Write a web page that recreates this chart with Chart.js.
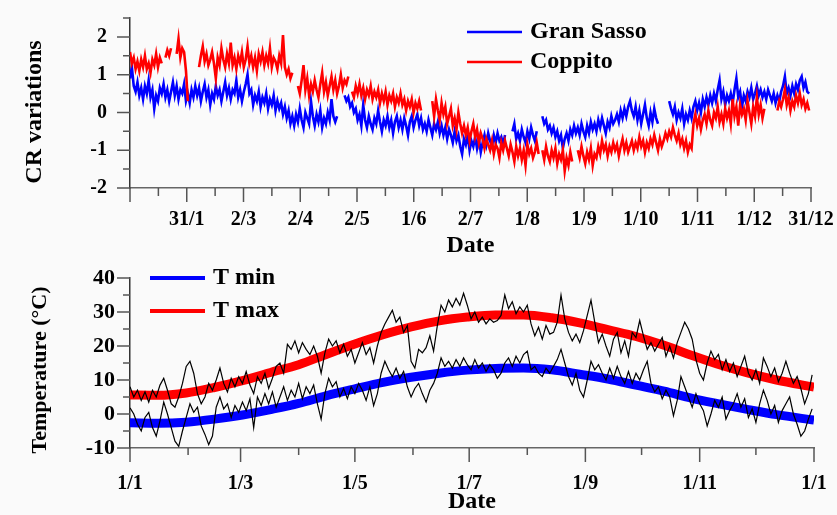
<!DOCTYPE html>
<html>
<head>
<meta charset="utf-8">
<script src="https://cdn.jsdelivr.net/npm/chart.js@4.4.1/dist/chart.umd.min.js"></script>
<style>
  html, body { margin: 0; padding: 0; background: #fafafa; }
  #wrap { position: relative; width: 837px; height: 515px; }
  #cr { position: absolute; left: 0; top: 0; }
  #temp { position: absolute; left: 0; top: 258px; }
</style>
</head>
<body>
<div id="wrap">
  <canvas id="cr" width="837" height="258"></canvas>
  <canvas id="temp" width="837" height="257"></canvas>
</div>
<script>
// top panel: daily CR variations, index = day of year (null = no data)
const gsVar = [
  0.9, 1.2, 0.7, 0.55, 0.8, 0.45, 0.65, 0.35, 0.7, 0.5,
  0.85, 0.4, 0.6, 0.1, 0.45, 0.3, 0.65, 0.5, 0.75, 0.4,
  0.6, 0.3, 0.55, 0.8, 0.45, 0.7, 0.35, 0.6, 0.5, 0.75,
  0.3, 0.5, 0.25, 0.6, 0.4, 0.7, 0.45, 0.65, 0.3, 0.55,
  0.75, 0.4, 0.6, 0.2, 0.5, 0.35, 0.7, 0.45, 0.6, 0.3,
  0.55, 0.8, 0.45, 0.65, 0.35, 0.6, 0.5, 0.85, 0.4, 0.6,
  0.3, 0.55, 0.75, 1.0, 0.5, 0.6, 0.2, 0.45, 0.3, 0.55,
  0.15, 0.4, 0.25, 0.5, 0.1, 0.35, 0.2, 0.45, 0.05, 0.3,
  0.1, 0.25, -0.05, 0.15, -0.15, 0.05, -0.3, -0.1, -0.35, -0.05,
  -0.25, 0.1, -0.2, -0.4, 0.0, -0.15, -0.3, 0.3, -0.1, -0.35,
  -0.05, -0.25, 0.05, -0.4, -0.15, -0.3, 0.0, -0.2, 0.35, -0.1,
  -0.25, -0.1, null, null, null, 0.45, 0.3, 0.4, 0.15, 0.25,
  0.0, 0.1, -0.2, -0.05, -0.35, 0.2, -0.2, -0.4, -0.1, -0.3,
  -0.45, -0.15, -0.3, 0.05, -0.25, -0.5, -0.2, -0.35, -0.1, -0.4,
  -0.2, -0.55, -0.25, -0.1, -0.4, -0.2, -0.45, -0.15, -0.35, -0.6,
  -0.25, -0.1, -0.4, -0.2, -0.05, -0.35, -0.15, -0.45, -0.3, -0.5,
  -0.2, -0.4, -0.6, -0.3, -0.45, -0.25, -0.55, -0.35, -0.6, -0.4,
  -0.7, -0.45, -0.6, -0.8, -0.5, -0.75, -0.6, -0.9, -1.1, -0.7,
  -0.85, -0.6, -1.0, -0.75, -0.9, -0.65, -0.95, -0.7, -1.05, -0.8,
  -0.6, -0.85, -0.55, -0.75, -0.9, -0.6, -0.8, -0.55, -0.75, -0.65,
  -0.85, -0.6, null, null, null, -0.5, -0.3, -0.7, -0.55, -0.75,
  -0.45, -0.65, -0.8, -0.5, -0.7, -0.4, -0.6, -0.75, -0.5, null,
  null, -0.1, -0.3, -0.2, -0.45, -0.35, -0.55, -0.4, -0.65, -0.5,
  -0.75, -0.6, -0.95, -0.7, -0.55, -0.75, -0.45, -0.6, -0.35, -0.55,
  -0.4, -0.6, -0.3, -0.5, -0.65, -0.35, -0.55, -0.25, -0.45, -0.3,
  -0.5, -0.2, -0.4, -0.15, -0.35, -0.55, -0.25, -0.4, -0.1, -0.3,
  -0.2, -0.05, -0.25, 0.05, -0.15, 0.1, -0.1, 0.15, 0.3, 0.05,
  -0.1, 0.15, -0.2, 0.05, -0.3, -0.05, 0.2, -0.15, -0.35, 0.0,
  -0.25, 0.1, -0.15, -0.3, null, null, null, null, null, 0.3,
  0.1, -0.05, 0.15, -0.2, 0.0, -0.15, 0.1, -0.3, -0.05, -0.2,
  0.05, -0.15, 0.15, 0.3, 0.05, 0.25, 0.0, 0.35, 0.15, 0.4,
  0.2, 0.45, 0.25, 0.5, 0.3, 0.6, 0.85, 0.35, 0.55, 0.2,
  0.45, 0.3, 0.5, 0.25, 0.6, 0.9, 0.4, 0.55, 0.15, 0.45,
  0.3, 0.55, 0.4, 0.65, 0.35, 0.5, 0.7, 0.45, 0.6, 0.4,
  0.55, 0.35, 0.6, 0.45, 0.3, 0.5, 0.25, 0.45, 0.3, 0.55,
  0.7, 0.95, 0.5, 0.65, 0.45, 0.7, 0.5, 0.75, 0.6, 0.85,
  0.95, 0.65, 0.8, 0.55, 0.5
];
const copVar = [
  1.6, 1.3, 1.45, 1.15, 1.35, 1.1, 1.4, 1.2, 1.5, 1.15,
  1.3, 1.05, 1.4, 1.25, 1.55, 1.2, 1.45, 1.3, null, 1.45,
  1.65, 1.5, 1.7, null, null, 1.55, 1.95, 1.45, 1.7, 1.6,
  1.1, 0.3, null, null, null, null, null, 1.2, 1.5, 1.75,
  1.35, 1.55, 1.25, 1.4, 1.6, 1.3, 0.9, 1.45, 1.25, 1.7,
  1.4, 1.2, 1.55, 1.3, 1.85, 1.25, 1.45, 1.15, 1.5, 1.3,
  1.6, 1.2, 1.4, 1.75, 1.3, 1.5, 1.2, 1.45, 1.1, 1.55,
  1.35, 1.6, 1.25, 1.5, 1.3, 1.7, 1.2, 1.45, 1.35, 1.15,
  1.5, 1.3, 2.05, 1.2, 1.0, 1.15, 0.9, 1.05, null, null,
  0.7, 0.5, 0.85, 1.25, 0.6, 0.9, 0.45, 0.75, 0.55, 0.85,
  0.6, 0.4, 0.75, 1.05, 0.55, 0.8, 0.45, 0.7, 0.95, 0.6,
  0.85, 0.5, 0.7, 1.0, 0.65, 0.85, 0.75, 0.95, null, 0.55,
  0.4, 0.7, 0.5, 0.75, 0.45, 0.65, 0.35, 0.6, 0.45, 0.7,
  0.35, 0.55, 0.4, 0.6, 0.25, 0.5, 0.3, 0.55, 0.2, 0.45,
  0.3, 0.5, 0.15, 0.4, 0.25, 0.5, 0.2, 0.35, 0.05, 0.3,
  0.15, 0.35, 0.0, 0.25, 0.1, 0.3, 0.05, null, null, 0.25,
  null, null, 0.3, -0.1, 0.35, 0.05, -0.2, 0.25, -0.05, 0.15,
  -0.3, -0.1, 0.1, -0.35, -0.15, -0.45, 0.0, -0.3, -0.55, -0.35,
  -0.6, -0.4, -0.75, -0.5, -0.3, -0.65, -0.45, -0.8, -0.55, -0.7,
  -0.95, -0.7, -0.85, -1.0, -0.75, -1.1, -0.85, -0.95, -1.2, -0.8,
  -1.0, -0.75, -0.95, -1.15, -0.85, -1.05, -1.3, -0.9, -1.15, -0.95,
  -1.25, -1.0, -1.4, -0.85, -1.1, -0.95, -1.2, -1.05, -0.8, -1.1,
  null, -1.0, -1.25, -0.9, -1.15, -1.3, -1.0, -1.2, -0.95, -1.35,
  -1.1, -1.25, -1.0, -1.55, -1.2, -1.4, -1.05, -1.3, null, null,
  -1.0, -1.2, -0.9, -1.15, -1.35, -1.05, -1.25, -0.95, -1.4, -1.1,
  -1.2, -0.9, -1.1, -0.75, -1.0, -0.85, -1.15, -0.9, -1.05, -0.8,
  -1.0, -0.85, -1.15, -0.9, -0.7, -1.0, -0.8, -1.05, -0.9, -0.75,
  -1.0, -0.8, -0.95, -0.65, -0.9, -0.75, -1.05, -0.8, -0.95, -0.7,
  -0.85, -0.6, -0.8, -1.0, -0.7, -0.9, -0.75, -0.55, -0.7, -0.5,
  -0.65, -0.4, -0.6, -0.75, -0.55, -0.85, -0.7, -0.95, -0.75, -1.05,
  -0.85, -0.95, -0.3, -0.05, -0.35, -0.15, -0.45, -0.2, -0.05, -0.3,
  0.05, -0.2, -0.35, 0.0, -0.15, 0.15, -0.25, -0.05, -0.3, 0.1,
  -0.15, 0.05, -0.3, 0.35, -0.1, 0.15, -0.35, 0.2, -0.05, 0.1,
  -0.2, 0.3, 0.0, -0.3, 0.15, -0.1, 0.4, -0.05, 0.2, -0.15,
  0.1, null, null, null, null, null, null, 0.05, 0.3, 0.15,
  0.35, 0.6, 0.2, 0.4, 0.05, 0.3, 0.15, 0.45, 0.25, 0.5,
  0.2, 0.35, 0.1, 0.25, 0.05
];
const crDateLabels = ['', '31/1', '2/3', '2/4', '2/5', '1/6', '2/7', '1/8', '1/9', '1/10', '1/11', '1/12', '31/12'];

// bottom panel: observed daily temperatures every 2nd day, plus seasonal fits
const obsStep = 2;
const tMaxObs = [
  8, 5, 7, 4, 6.5, 3.5, 7, 5, 8.5, 10.5,
  7, 3, 2, 5, 9, 14, 15.5, 12, 6, 3,
  5, 9, 7, 10, 13.5, 9, 6.5, 10.5, 8, 11,
  9, 12.5, 8.5, 6, 11, 9, 12, 7.5, 10.5, 14,
  15, 12, 20.5, 19, 21.5, 18, 21, 19, 17.5, 20,
  17, 12, 18, 22, 20, 21.5, 18, 20.5, 17, 19,
  15, 18, 21, 17.5, 19.5, 15, 20, 24, 26.5, 28.5,
  30.5, 27, 28.5, 24, 26, 15.5, 13.5, 19, 18, 19.5,
  23, 18.5, 26, 32, 30, 33.5, 31.5, 34, 32, 35.5,
  32, 28, 30, 27, 28.5, 26.5, 28, 27, 27.5, 29,
  35, 31, 33, 29.5, 31.5, 30, 32, 26.5, 23, 25.5,
  22, 26, 23.5, 24, 27, 35, 28, 24, 21.5, 23.5,
  21, 24.5, 29, 33.5, 27, 21, 23.5, 20, 17, 22,
  24, 18, 21.5, 17, 24, 22.5, 27.5, 23, 19, 21,
  18.5, 20.5, 22.5, 17, 20, 16.5, 21, 24, 27, 25,
  22, 16, 12, 10, 15, 18.5, 16, 17.5, 13, 16,
  12.5, 15, 11, 14, 17, 12, 10, 13, 9, 16.5,
  14, 11, 13.5, 9.5, 12, 15.5, 12, 9, 11, 7.5,
  3, 6, 11.5
];
const tMinObs = [
  1.8, 0, -3, -5, -1, 0.5, -4, -6.5, -2, 3.5,
  0, -4, -8, -9.5, -5, -1, 3, 0.5, 2, -3.5,
  -6, -9, -6.5, 2, 5, 1.5, 3, -1, 2.5, 0.5,
  3.5, 1, 4.5, -4, 5, 2.5, 6, 3, 6.5, 2,
  5, 8, 4, 7, 5, 9, 4.5, 8, 6, 8.5,
  3, -1.5, 6, 10.5, 8, 9.5, 5, 7.5, 4.5, 8,
  6, 9, 7, 4, 8, 2.5, 6, 12, 15.5, 13,
  11, 13.5, 10.5, 12.5, 8, 5, 7.5, 9, 6, 3.5,
  7, 9, 12, 16.5, 14, 15.5, 13.5, 16, 14, 16.5,
  14.5, 13, 16, 13.5, 15, 12.5, 14.5, 13, 10.5, 12,
  15, 16.5, 14, 17, 15, 17.5, 18.5, 13, 14, 12,
  11, 13.5, 12, 14, 16, 19, 15, 11, 8.5, 12,
  7, 5, 10, 15.5, 13, 14.5, 12, 10, 13.5, 10.5,
  14, 11, 9, 12.5, 9, 12, 10, 13, 15.5, 9,
  6.5, 8, 4.5, 7, 5, -0.5, 4, 11, 8, 5,
  2, 6, 3, 1, -3.5, 0, 4, 2, 5, -1.5,
  1, 3, 6, 2, 4.5, -1, 1.5, -2.5, 3, 7,
  4, 0, 2.5, -2.5, 1, 3, 5, 0, -3, -6.5,
  -5, -1.5, 1.5
];
const fitDays = [0, 15, 30, 45, 60, 75, 90, 105, 120, 135, 150, 165, 180, 195, 210, 225, 240, 255, 270, 285, 300, 315, 330, 345, 365];
const tMinFit = [-2.6, -2.7, -2.4, -1.5, -0.3, 1.3, 3.1, 5.4, 7.4, 9.3, 10.8, 12.0, 12.9, 13.4, 13.5, 13.0, 11.7, 10.3, 8.5, 6.7, 4.6, 2.9, 1.3, -0.2, -1.8];
const tMaxFit = [5.6, 5.5, 6.2, 7.8, 9.8, 12.2, 14.5, 17.6, 20.6, 23.3, 25.6, 27.4, 28.5, 29.1, 29.1, 28.3, 26.8, 24.8, 22.8, 20.2, 17.2, 14.4, 12.0, 10.0, 7.9];
const monthStarts = [0, 31, 59, 90, 120, 151, 181, 212, 243, 273, 304, 334, 365];
const monthLabels = ['1/1', '', '1/3', '', '1/5', '', '1/7', '', '1/9', '', '1/11', '', '1/1'];

const serif = "'Liberation Serif', 'Times New Roman', serif";
Chart.defaults.font.family = serif;

// short minor / long major tick marks drawn outside the axes
function tickMarks(o) {
  return {
    id: 'tickMarks',
    afterDraw(chart) {
      const ctx = chart.ctx;
      const xs = chart.scales.x, ys = chart.scales.y;
      ctx.save();
      ctx.strokeStyle = '#555';
      ctx.lineWidth = 1.5;
      ctx.beginPath();
      xs.ticks.forEach(t => {
        const px = xs.getPixelForValue(t.value);
        ctx.moveTo(px, xs.top);
        ctx.lineTo(px, xs.top + (t.major ? o.xMajor : o.xMinor));
      });
      ys.ticks.forEach(t => {
        const py = ys.getPixelForValue(t.value);
        ctx.moveTo(ys.right - (t.major ? o.yMajor : o.yMinor), py);
        ctx.lineTo(ys.right, py);
      });
      ctx.stroke();
      ctx.restore();
    }
  };
}

function sideTitle(text, x, y, size) {
  return {
    id: 'sideTitle',
    afterDraw(chart) {
      const ctx = chart.ctx;
      ctx.save();
      ctx.translate(x, y);
      ctx.rotate(-Math.PI / 2);
      ctx.font = 'bold ' + size + 'px ' + serif;
      ctx.fillStyle = '#000';
      ctx.textAlign = 'center';
      ctx.textBaseline = 'middle';
      ctx.fillText(text, 0, 0);
      ctx.restore();
    }
  };
}

function lineLegend(labels, o) {
  return {
    id: 'lineLegend',
    afterDraw(chart) {
      const ctx = chart.ctx;
      ctx.save();
      ctx.font = 'bold 24px ' + serif;
      ctx.textBaseline = 'middle';
      labels.forEach((label, i) => {
        const ds = chart.data.datasets.find(d => d.label === label);
        const y = o.y + i * o.rowGap;
        ctx.strokeStyle = ds.borderColor;
        ctx.lineWidth = o.lineWidth;
        ctx.beginPath();
        ctx.moveTo(o.x, y);
        ctx.lineTo(o.x + 55, y);
        ctx.stroke();
        ctx.fillStyle = '#000';
        ctx.fillText(label, o.x + 63, y);
      });
      ctx.restore();
    }
  };
}

// nudge layout padding until the plot area sits where the original's does
function fitArea(chart, top, right) {
  const pad = chart.config.options.layout.padding;
  for (let n = 0; n < 4; n++) {
    const a = chart.chartArea;
    const dr = a.right - right, dt = top - a.top;
    if (Math.abs(dr) < 0.5 && Math.abs(dt) < 0.5) break;
    pad.right += dr;
    pad.top += dt;
    chart.update();
  }
}

const tickFont = size => ({ family: serif, size: size, weight: 'bold' });
// labels are pushed off the axis by an invisible tick mark, the real marks come from tickMarks()
const offsetGrid = gap => ({ display: true, drawOnChartArea: false, drawTicks: true, tickLength: gap, tickColor: 'rgba(0,0,0,0)' });
const dateTitle = pad => ({
  display: true, text: 'Date', color: '#000',
  font: { family: serif, size: 24, weight: 'bold', lineHeight: 1 },
  padding: { top: 0, bottom: pad }
});

const crChart = new Chart(document.getElementById('cr'), {
  type: 'line',
  data: {
    datasets: [
      { label: 'Coppito', data: copVar.map((v, i) => ({ x: i, y: v })), borderColor: '#ff0000', borderWidth: 2.6, order: 0 },
      { label: 'Gran Sasso', data: gsVar.map((v, i) => ({ x: i, y: v })), borderColor: '#0000ff', borderWidth: 2.6, order: 1 }
    ]
  },
  options: {
    responsive: false,
    animation: false,
    layout: { padding: { left: 0, right: 26, top: 18, bottom: 0 } },
    elements: { point: { radius: 0 }, line: { tension: 0 } },
    plugins: { legend: { display: false }, tooltip: { enabled: false } },
    scales: {
      x: {
        type: 'linear', min: 0, max: 365,
        afterBuildTicks: s => {
          const step = 365 / (2 * (crDateLabels.length - 1));
          s.ticks = [];
          for (let k = 0; k <= 2 * (crDateLabels.length - 1); k++) s.ticks.push({ value: k * step, major: k % 2 === 0 });
        },
        afterFit: s => { s.height = 70; },
        ticks: {
          autoSkip: false, maxRotation: 0, padding: 0, color: '#000', font: tickFont(20),
          callback: (v, i) => (i % 2 === 0 ? crDateLabels[i / 2] : '')
        },
        grid: offsetGrid(20),
        border: { color: '#666', width: 1.5 },
        title: dateTitle(0)
      },
      y: {
        min: -2, max: 2.5,
        afterBuildTicks: s => {
          s.ticks = [];
          for (let v = -2; v <= 2.5; v += 0.5) s.ticks.push({ value: v, major: Number.isInteger(v) });
        },
        afterFit: s => { s.width = 130; },
        ticks: {
          autoSkip: false, padding: 0, color: '#000', font: tickFont(20),
          callback: (v, i, ticks) => (ticks[i].major ? String(v) : '')
        },
        grid: offsetGrid(23),
        border: { color: '#333', width: 1.5 }
      }
    }
  },
  plugins: [
    tickMarks({ xMajor: 14, xMinor: 8, yMajor: 13, yMinor: 7 }),
    sideTitle('CR variations', 35, 112, 24),
    lineLegend(['Gran Sasso', 'Coppito'], { x: 467, y: 32, rowGap: 30, lineWidth: 2.5 })
  ]
});

const tempChart = new Chart(document.getElementById('temp'), {
  type: 'line',
  data: {
    datasets: [
      { data: tMaxObs.map((v, i) => ({ x: i * obsStep, y: v })), borderColor: '#000', borderWidth: 1.2, order: 0 },
      { data: tMinObs.map((v, i) => ({ x: i * obsStep, y: v })), borderColor: '#000', borderWidth: 1.2, order: 0 },
      { label: 'T min', data: fitDays.map((d, i) => ({ x: d, y: tMinFit[i] })), borderColor: '#0000ff', borderWidth: 9, cubicInterpolationMode: 'monotone', order: 1 },
      { label: 'T max', data: fitDays.map((d, i) => ({ x: d, y: tMaxFit[i] })), borderColor: '#ff0000', borderWidth: 9, cubicInterpolationMode: 'monotone', order: 1 }
    ]
  },
  options: {
    responsive: false,
    animation: false,
    layout: { padding: { left: 0, right: 23, top: 20, bottom: 0 } },
    elements: { point: { radius: 0 }, line: { tension: 0 } },
    plugins: { legend: { display: false }, tooltip: { enabled: false } },
    scales: {
      x: {
        type: 'linear', min: 0, max: 365,
        afterBuildTicks: s => {
          s.ticks = monthStarts.map((d, i) => ({ value: d, major: monthLabels[i] !== '' }));
        },
        afterFit: s => { s.height = 67; },
        ticks: {
          autoSkip: false, maxRotation: 0, padding: 0, color: '#000', font: tickFont(20),
          callback: (v, i) => monthLabels[i]
        },
        grid: offsetGrid(24),
        border: { color: '#666', width: 1.5 },
        title: dateTitle(1.5)
      },
      y: {
        min: -10, max: 40,
        afterBuildTicks: s => {
          s.ticks = [];
          for (let v = -10; v <= 40; v += 5) s.ticks.push({ value: v, major: v % 10 === 0 });
        },
        afterFit: s => { s.width = 130; },
        ticks: {
          autoSkip: false, padding: 0, color: '#000', font: tickFont(22),
          callback: (v, i, ticks) => (ticks[i].major ? String(v) : '')
        },
        grid: offsetGrid(15),
        border: { color: '#333', width: 1.5 }
      }
    }
  },
  plugins: [
    tickMarks({ xMajor: 14, xMinor: 7, yMajor: 13, yMinor: 7 }),
    sideTitle('Temperature (°C)', 40, 112, 22),
    lineLegend(['T min', 'T max'], { x: 150, y: 20, rowGap: 33, lineWidth: 4 })
  ]
});

fitArea(crChart, 18, 811);
fitArea(tempChart, 20, 814);
</script>
</body>
</html>
